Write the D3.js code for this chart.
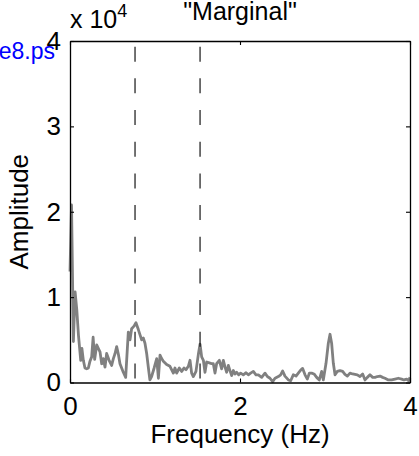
<!DOCTYPE html>
<html>
<head>
<meta charset="utf-8">
<script src="https://cdn.jsdelivr.net/npm/d3@7"></script>
<style>
  body { margin: 0; background: #fff; }
  text { font-family: "Liberation Sans", Arial, sans-serif; fill: #000; }
</style>
</head>
<body>
<div id="chart"></div>
<script>
// spectrum, amplitude in units of 1e4
const freqs = [0, 0.018, 0.04, 0.06, 0.08, 0.1, 0.126, 0.14, 0.157, 0.176, 0.196, 0.216, 0.235, 0.255, 0.272,
  0.29, 0.314, 0.333, 0.353, 0.373, 0.392, 0.412, 0.431, 0.46, 0.49, 0.51, 0.53, 0.549, 0.569, 0.588,
  0.627, 0.655, 0.686, 0.706, 0.725, 0.753, 0.776, 0.804, 0.823, 0.843, 0.863, 0.882, 0.902, 0.92,
  0.94, 0.96, 0.99, 1.02, 1.04, 1.059, 1.078, 1.098, 1.137, 1.176, 1.216, 1.235, 1.255, 1.286, 1.314,
  1.341, 1.365, 1.392, 1.412, 1.431, 1.451, 1.482, 1.51, 1.53, 1.549, 1.569, 1.588, 1.608, 1.64,
  1.667, 1.686, 1.706, 1.725, 1.757, 1.784, 1.804, 1.824, 1.843, 1.863, 1.882, 1.902, 1.922, 1.941,
  1.961, 1.985, 2.008, 2.039, 2.071, 2.098, 2.125, 2.157, 2.188, 2.216, 2.255, 2.294, 2.322, 2.353,
  2.384, 2.412, 2.451, 2.478, 2.502, 2.529, 2.569, 2.596, 2.627, 2.659, 2.686, 2.714, 2.737, 2.765,
  2.792, 2.816, 2.843, 2.871, 2.902, 2.933, 2.961, 2.98, 3.012, 3.039, 3.059, 3.078, 3.098, 3.118,
  3.145, 3.176, 3.208, 3.235, 3.263, 3.294, 3.325, 3.353, 3.38, 3.412, 3.443, 3.471, 3.498, 3.529,
  3.561, 3.588, 3.616, 3.647, 3.678, 3.706, 3.745, 3.784, 3.824, 3.863, 3.902, 3.929, 3.961, 3.984, 4.0];
const amps = [1.3, 2.08, 0.48, 1.06, 0.85, 0.55, 0.26, 0.40, 0.26, 0.17, 0.16, 0.17, 0.25, 0.30, 0.53,
  0.27, 0.44, 0.40, 0.36, 0.22, 0.28, 0.18, 0.34, 0.26, 0.20, 0.28, 0.34, 0.42, 0.33, 0.22,
  0.12, 0.06, 0.59, 0.50, 0.63, 0.66, 0.70, 0.62, 0.56, 0.50, 0.52, 0.46, 0.34, 0.19,
  0.03, 0.07, 0.17, 0.28, 0.05, 0.32, 0.28, 0.25, 0.21, 0.19, 0.11, 0.17, 0.11, 0.17, 0.13,
  0.17, 0.15, 0.19, 0.26, 0.11, 0.07, 0.13, 0.33, 0.45, 0.30, 0.26, 0.12, 0.24, 0.23,
  0.22, 0.22, 0.11, 0.22, 0.26, 0.16, 0.26, 0.18, 0.12, 0.20, 0.14, 0.08, 0.14, 0.10,
  0.12, 0.09, 0.11, 0.09, 0.115, 0.09, 0.11, 0.13, 0.09, 0.09, 0.06, 0.11, 0.07, 0.05,
  0.01, 0.05, 0.07, 0.09, 0.135, 0.075, 0.03, 0.02, 0.09, 0.075, 0.11, 0.145, 0.165, 0.09,
  0.04, 0.11, 0.11, 0.10, 0.06, 0.03, 0.13, 0.03, 0.225, 0.46, 0.565, 0.46, 0.225, 0.09,
  0.13, 0.14, 0.13, 0.095, 0.075, 0.11, 0.10, 0.095, 0.09, 0.07, 0.10, 0.03, 0.06, 0.09,
  0.06, 0.06, 0.07, 0.075, 0.06, 0.05, 0.03, 0.03, 0.04, 0.05, 0.04, 0.03, 0.04, 0.02, 0.06];
const markers = [0.765, 1.53];          // dashed reference lines (Hz)
const xTicks = [0, 2, 4];
const yTicks = [0, 1, 2, 3, 4];

const dims = { width: 419, height: 456, left: 70, right: 9, top: 41, bottom: 73.5 };
const plotW = dims.width - dims.left - dims.right;
const plotH = dims.height - dims.top - dims.bottom;

const svg = d3.select("#chart").append("svg")
  .attr("width", dims.width).attr("height", dims.height);

const x = d3.scaleLinear([0, 4], [dims.left, dims.left + plotW]);
const y = d3.scaleLinear([0, 4], [dims.top + plotH, dims.top]);

// cut-off file label at the left edge
svg.append("text").attr("x", 55).attr("y", 59)
  .attr("text-anchor", "end").attr("font-size", 23)
  .style("fill", "#0000ff")
  .text("figure8.ps");

// spectrum line
const line = d3.line().x((d, i) => x(freqs[i])).y(d => y(d));
svg.append("path").datum(amps)
  .attr("d", line)
  .attr("fill", "none").attr("stroke", "#808080")
  .attr("stroke-width", 2.8).attr("stroke-linejoin", "round");

// dashed lines
svg.selectAll("line.mark").data(markers).join("line")
  .attr("class", "mark")
  .attr("x1", d => x(d)).attr("x2", d => x(d))
  .attr("y1", y(4)).attr("y2", y(0))
  .attr("stroke", "#000").attr("stroke-width", 1.1)
  .attr("stroke-dasharray", "15,16.67").attr("stroke-dashoffset", 25.97);

// axes (matlab style: ticks inside, box)
const tk = 4;
const axG = svg.append("g");
axG.append("g").attr("transform", `translate(0 ${y(0)})`)
  .call(d3.axisBottom(x).tickValues(xTicks).tickSizeInner(-tk).tickSizeOuter(0).tickPadding(14).tickFormat(d3.format("d")));
axG.append("g").attr("transform", `translate(0 ${y(4)})`)
  .call(d3.axisTop(x).tickValues(xTicks).tickSizeInner(-tk).tickSizeOuter(0).tickFormat(""));
axG.append("g").attr("transform", `translate(${x(0)} 0)`)
  .call(d3.axisLeft(y).tickValues(yTicks).tickSizeInner(-tk).tickSizeOuter(0).tickPadding(9).tickFormat(d3.format("d")));
axG.append("g").attr("transform", `translate(${x(4)} 0)`)
  .call(d3.axisRight(y).tickValues(yTicks).tickSizeInner(-tk).tickSizeOuter(0).tickFormat(""));
axG.selectAll(".domain").attr("stroke", "#000").attr("stroke-width", 1.3);
axG.selectAll(".tick line").attr("stroke", "#000").attr("stroke-width", 1.1);
axG.selectAll(".tick text").attr("font-size", 26).attr("font-family", "Liberation Sans, Arial, sans-serif");

// labels
svg.append("text").attr("x", x(2)).attr("y", 443)
  .attr("text-anchor", "middle").attr("font-size", 26)
  .text("Frequency (Hz)");
svg.append("text").attr("transform", `translate(28 ${(y(0) + y(4)) / 2}) rotate(-90)`)
  .attr("text-anchor", "middle").attr("font-size", 26)
  .text("Amplitude");
svg.append("text").attr("x", x(2)).attr("y", 20)
  .attr("text-anchor", "middle").attr("font-size", 25)
  .text("\"Marginal\"");
const exp = svg.append("text").attr("x", 70).attr("y", 28).attr("font-size", 25);
exp.append("tspan").text("x 10");
exp.append("tspan").attr("font-size", 18).attr("dy", -11).text("4");
</script>
</body>
</html>
